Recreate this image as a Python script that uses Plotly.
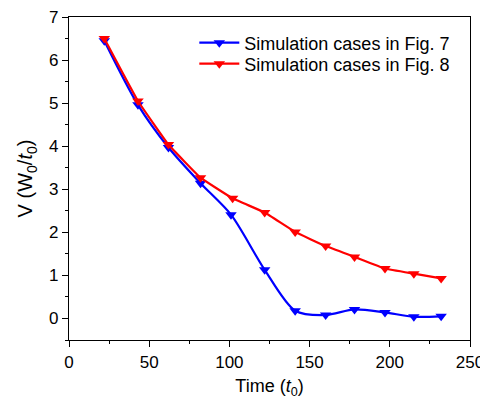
import plotly.graph_objects as go

time_fig7 = [22, 43, 62, 82, 101, 122, 141, 160, 178, 197, 215, 232]
v_fig7 = [6.45, 4.96, 3.97, 3.14, 2.41, 1.13, 0.18, 0.08, 0.21, 0.14, 0.04, 0.05]
time_fig8 = [22, 43, 62, 82, 102, 122, 141, 160, 178, 197, 215, 232]
v_fig8 = [6.50, 5.05, 4.04, 3.27, 2.79, 2.46, 2.01, 1.68, 1.43, 1.16, 1.04, 0.93]
name7 = "Simulation cases in Fig. 7"
name8 = "Simulation cases in Fig. 8"

font = "Liberation Sans, Arial, sans-serif"

fig = go.Figure()
fig.add_trace(go.Scatter(
    x=time_fig7, y=v_fig7, name=name7, mode="lines+markers", legend="legend",
    line=dict(color="#0000ff", width=2.2, shape="spline", smoothing=0.8),
    marker=dict(symbol="triangle-down", size=10, color="#0000ff"),
))
fig.add_trace(go.Scatter(
    x=time_fig8, y=v_fig8, name=name8, mode="lines+markers", legend="legend2",
    line=dict(color="#ff0000", width=2.2, shape="spline", smoothing=0.3),
    marker=dict(symbol="triangle-down", size=10, color="#ff0000"),
))

axis_common = dict(
    showgrid=False, zeroline=False, showline=True, linecolor="black", linewidth=1.3,
    mirror=True, ticks="outside", ticklen=6, tickwidth=1.2, tickcolor="black",
    tickfont=dict(family=font, size=17, color="black"), automargin=False,
    ticklabeloverflow="allow",
)
fig.update_xaxes(
    range=[0, 250], tickvals=[0, 50, 100, 150, 200, 250],
    minor=dict(ticks="outside", ticklen=3, tickwidth=1, tickcolor="black", dtick=25, tick0=0),
    title=dict(text="Time (<i>t</i><sub>0</sub>)", font=dict(family=font, size=18, color="black"), standoff=10),
    **axis_common,
)
fig.update_yaxes(
    range=[-0.5, 7], tickvals=[0, 1, 2, 3, 4, 5, 6, 7],
    minor=dict(ticks="outside", ticklen=3, tickwidth=1, tickcolor="black", dtick=0.5, tick0=0),
    title=dict(text="V (W<sub>0</sub>/<i>t</i><sub>0</sub>)", font=dict(family=font, size=20, color="black"), standoff=10),
    **axis_common,
)
legend_common = dict(xanchor="left", yanchor="middle", bgcolor="rgba(0,0,0,0)",
                     font=dict(family=font, size=18, color="black"), itemwidth=40)
fig.update_layout(
    width=480, height=391,
    margin=dict(l=61, r=18, t=9, b=59),
    paper_bgcolor="white", plot_bgcolor="white",
    font=dict(family=font, size=17, color="black"),
    legend=dict(x=0.3125, y=0.9195, **legend_common),
    legend2=dict(x=0.3125, y=0.8545, **legend_common),
    showlegend=True,
)
fig.write_html("out.html")
